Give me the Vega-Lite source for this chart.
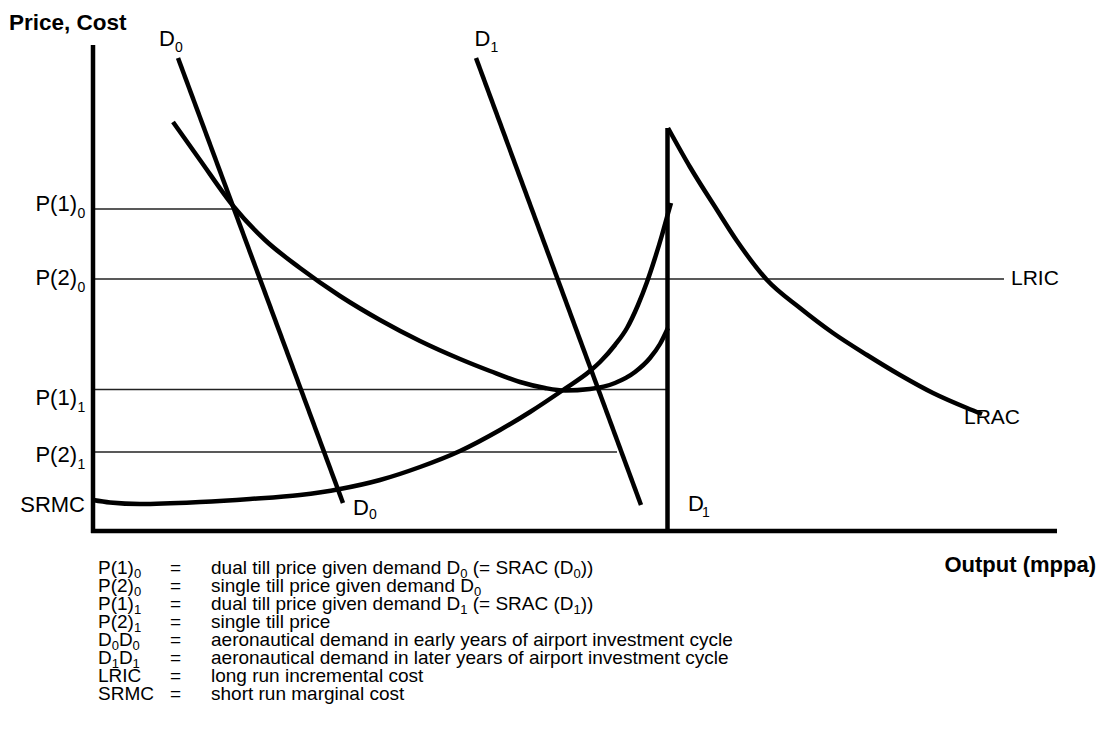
{
  "$schema": "https://vega.github.io/schema/vega-lite/v6.json",
  "width": 1100,
  "height": 738,
  "padding": 0,
  "autosize": {"type": "fit", "contains": "padding"},
  "background": "white",
  "config": {"view": {"stroke": null}, "font": "Liberation Sans"},
  "datasets": {
    "curves": [
      {"s": "LRAC left", "i": 0, "x": 80, "y": 409},
      {"s": "LRAC left", "i": 1, "x": 107, "y": 371},
      {"s": "LRAC left", "i": 2, "x": 141, "y": 324},
      {"s": "LRAC left", "i": 3, "x": 172, "y": 291},
      {"s": "LRAC left", "i": 4, "x": 207, "y": 263},
      {"s": "LRAC left", "i": 5, "x": 247, "y": 235},
      {"s": "LRAC left", "i": 6, "x": 287, "y": 211},
      {"s": "LRAC left", "i": 7, "x": 327, "y": 190},
      {"s": "LRAC left", "i": 8, "x": 367, "y": 172},
      {"s": "LRAC left", "i": 9, "x": 397, "y": 160},
      {"s": "LRAC left", "i": 10, "x": 427, "y": 149},
      {"s": "LRAC left", "i": 11, "x": 452, "y": 143},
      {"s": "LRAC left", "i": 12, "x": 472, "y": 140.5},
      {"s": "LRAC left", "i": 13, "x": 497, "y": 142},
      {"s": "LRAC left", "i": 14, "x": 522, "y": 148},
      {"s": "LRAC left", "i": 15, "x": 542, "y": 159},
      {"s": "LRAC left", "i": 16, "x": 557, "y": 173},
      {"s": "LRAC left", "i": 17, "x": 567, "y": 187},
      {"s": "LRAC left", "i": 18, "x": 575, "y": 203},
      {"s": "LRAC right", "i": 0, "x": 575, "y": 403},
      {"s": "LRAC right", "i": 1, "x": 597, "y": 364},
      {"s": "LRAC right", "i": 2, "x": 624, "y": 321},
      {"s": "LRAC right", "i": 3, "x": 644, "y": 290},
      {"s": "LRAC right", "i": 4, "x": 674, "y": 251},
      {"s": "LRAC right", "i": 5, "x": 707, "y": 223},
      {"s": "LRAC right", "i": 6, "x": 740, "y": 198},
      {"s": "LRAC right", "i": 7, "x": 774, "y": 176},
      {"s": "LRAC right", "i": 8, "x": 807, "y": 156},
      {"s": "LRAC right", "i": 9, "x": 840, "y": 138},
      {"s": "LRAC right", "i": 10, "x": 874, "y": 123},
      {"s": "LRAC right", "i": 11, "x": 889, "y": 117},
      {"s": "SRMC", "i": 0, "x": 0, "y": 31},
      {"s": "SRMC", "i": 1, "x": 17, "y": 28.5},
      {"s": "SRMC", "i": 2, "x": 47, "y": 27},
      {"s": "SRMC", "i": 3, "x": 107, "y": 29},
      {"s": "SRMC", "i": 4, "x": 157, "y": 32},
      {"s": "SRMC", "i": 5, "x": 207, "y": 36},
      {"s": "SRMC", "i": 6, "x": 247, "y": 42},
      {"s": "SRMC", "i": 7, "x": 287, "y": 51},
      {"s": "SRMC", "i": 8, "x": 327, "y": 64},
      {"s": "SRMC", "i": 9, "x": 367, "y": 80},
      {"s": "SRMC", "i": 10, "x": 407, "y": 101},
      {"s": "SRMC", "i": 11, "x": 437, "y": 119},
      {"s": "SRMC", "i": 12, "x": 470, "y": 141},
      {"s": "SRMC", "i": 13, "x": 497, "y": 160},
      {"s": "SRMC", "i": 14, "x": 507, "y": 169},
      {"s": "SRMC", "i": 15, "x": 522, "y": 186},
      {"s": "SRMC", "i": 16, "x": 534, "y": 203},
      {"s": "SRMC", "i": 17, "x": 545, "y": 226},
      {"s": "SRMC", "i": 18, "x": 554, "y": 249},
      {"s": "SRMC", "i": 19, "x": 562, "y": 273},
      {"s": "SRMC", "i": 20, "x": 569, "y": 296},
      {"s": "SRMC", "i": 21, "x": 574, "y": 314},
      {"s": "SRMC", "i": 22, "x": 578, "y": 328}
    ],
    "thick": [
      {"name": "price axis", "x": 0, "y": 486, "x2": 0, "y2": -2},
      {"name": "output axis", "x": -2, "y": 0, "x2": 964, "y2": 0},
      {"name": "D0", "x": 85, "y": 473, "x2": 250, "y2": 28},
      {"name": "D1", "x": 383, "y": 473, "x2": 548, "y2": 26},
      {"name": "D1 capacity", "x": 574.5, "y": 403, "x2": 574.5, "y2": 0}
    ],
    "thin": [
      {"name": "P(1)0", "x": 0, "x2": 140, "y": 322},
      {"name": "P(2)0 / LRIC", "x": 0, "x2": 911, "y": 252},
      {"name": "P(1)1", "x": 0, "x2": 573, "y": 141.5},
      {"name": "P(2)1", "x": 0, "x2": 524, "y": 79}
    ],
    "tickMain": [
      {"t": "P(1)", "x": -16, "y": 320},
      {"t": "P(2)", "x": -16, "y": 246},
      {"t": "P(1)", "x": -16, "y": 126},
      {"t": "P(2)", "x": -16, "y": 69},
      {"t": "SRMC", "x": -8, "y": 19}
    ],
    "tickSub": [
      {"t": "0", "x": -15.5, "y": 313},
      {"t": "0", "x": -15.5, "y": 239},
      {"t": "1", "x": -15.5, "y": 119},
      {"t": "1", "x": -15.5, "y": 62}
    ],
    "dMain": [
      {"t": "D", "x": 66, "y": 485},
      {"t": "D", "x": 381.5, "y": 485},
      {"t": "D", "x": 260, "y": 16},
      {"t": "D", "x": 595, "y": 20}
    ],
    "dSub": [
      {"t": "0", "x": 82, "y": 479},
      {"t": "1", "x": 397.5, "y": 479},
      {"t": "0", "x": 276, "y": 12},
      {"t": "1", "x": 609, "y": 14}
    ],
    "curveLabels": [
      {"t": "LRIC", "x": 918, "y": 246},
      {"t": "LRAC", "x": 871, "y": 107}
    ],
    "titles": [
      {"t": "Price, Cost", "x": -84, "y": 501}
    ],
    "titlesRight": [
      {"t": "Output (mppa)", "x": 1003, "y": -41}
    ],
    "legendRows": [
      {"row": 1, "y": -43},
      {"row": 2, "y": -61},
      {"row": 3, "y": -79},
      {"row": 4, "y": -97},
      {"row": 5, "y": -115},
      {"row": 6, "y": -133},
      {"row": 7, "y": -151},
      {"row": 8, "y": -169}
    ],
    "legendMain": [
      {"t": "P(1)", "x": 5, "y": -43},
      {"t": "P(2)", "x": 5, "y": -61},
      {"t": "P(1)", "x": 5, "y": -79},
      {"t": "P(2)", "x": 5, "y": -97},
      {"t": "D", "x": 5, "y": -115},
      {"t": "D", "x": 25.9, "y": -115},
      {"t": "D", "x": 5, "y": -133},
      {"t": "D", "x": 25.9, "y": -133},
      {"t": "LRIC", "x": 5, "y": -151},
      {"t": "SRMC", "x": 5, "y": -169},
      {"t": "dual till price given demand D", "x": 118, "y": -43},
      {"t": "(= SRAC (D", "x": 379.7, "y": -43},
      {"t": "))", "x": 487.7, "y": -43},
      {"t": "single till price given demand D", "x": 118, "y": -61},
      {"t": "dual till price given demand D", "x": 118, "y": -79},
      {"t": "(= SRAC (D", "x": 379.7, "y": -79},
      {"t": "))", "x": 487.7, "y": -79},
      {"t": "single till price", "x": 118, "y": -97},
      {"t": "aeronautical demand in early years of airport investment cycle", "x": 118, "y": -115},
      {"t": "aeronautical demand in later years of airport investment cycle", "x": 118, "y": -133},
      {"t": "long run incremental cost", "x": 118, "y": -151},
      {"t": "short run marginal cost", "x": 118, "y": -169}
    ],
    "legendSub": [
      {"t": "0", "x": 40.9, "y": -46.5},
      {"t": "0", "x": 40.9, "y": -64.5},
      {"t": "1", "x": 40.9, "y": -82.5},
      {"t": "1", "x": 40.9, "y": -100.5},
      {"t": "0", "x": 18.7, "y": -118.5},
      {"t": "0", "x": 39.6, "y": -118.5},
      {"t": "1", "x": 18.7, "y": -136.5},
      {"t": "1", "x": 39.6, "y": -136.5},
      {"t": "0", "x": 367.2, "y": -46.5},
      {"t": "0", "x": 480.5, "y": -46.5},
      {"t": "0", "x": 380.9, "y": -64.5},
      {"t": "1", "x": 367.2, "y": -82.5},
      {"t": "1", "x": 480.5, "y": -82.5}
    ]
  },
  "layer": [
    {
      "data": {"name": "thin"},
      "mark": {"type": "rule", "color": "#222", "strokeWidth": 1.4},
      "encoding": {
        "x": {"field": "x", "type": "quantitative", "axis": null, "scale": {"domain": [-93, 1007], "nice": false, "zero": false}},
        "x2": {"field": "x2"},
        "y": {"field": "y", "type": "quantitative", "axis": null, "scale": {"domain": [-207, 531], "nice": false, "zero": false}}
      }
    },
    {
      "data": {"name": "curves"},
      "mark": {"type": "line", "color": "black", "strokeWidth": 4.5, "interpolate": "monotone"},
      "encoding": {
        "x": {"field": "x", "type": "quantitative", "axis": null},
        "y": {"field": "y", "type": "quantitative", "axis": null},
        "detail": {"field": "s"},
        "order": {"field": "i", "type": "quantitative"}
      }
    },
    {
      "data": {"name": "thick"},
      "mark": {"type": "rule", "color": "black", "strokeWidth": 4.5},
      "encoding": {
        "x": {"field": "x", "type": "quantitative", "axis": null},
        "y": {"field": "y", "type": "quantitative", "axis": null},
        "x2": {"field": "x2"},
        "y2": {"field": "y2"}
      }
    },
    {
      "data": {"name": "tickMain"},
      "mark": {"type": "text", "align": "right", "baseline": "alphabetic", "fontSize": 22, "color": "black"},
      "encoding": {
        "x": {"field": "x", "type": "quantitative", "axis": null},
        "y": {"field": "y", "type": "quantitative", "axis": null},
        "text": {"field": "t"}
      }
    },
    {
      "data": {"name": "tickSub"},
      "mark": {"type": "text", "align": "left", "baseline": "alphabetic", "fontSize": 14, "color": "black"},
      "encoding": {
        "x": {"field": "x", "type": "quantitative", "axis": null},
        "y": {"field": "y", "type": "quantitative", "axis": null},
        "text": {"field": "t"}
      }
    },
    {
      "data": {"name": "dMain"},
      "mark": {"type": "text", "align": "left", "baseline": "alphabetic", "fontSize": 22, "color": "black"},
      "encoding": {
        "x": {"field": "x", "type": "quantitative", "axis": null},
        "y": {"field": "y", "type": "quantitative", "axis": null},
        "text": {"field": "t"}
      }
    },
    {
      "data": {"name": "dSub"},
      "mark": {"type": "text", "align": "left", "baseline": "alphabetic", "fontSize": 14, "color": "black"},
      "encoding": {
        "x": {"field": "x", "type": "quantitative", "axis": null},
        "y": {"field": "y", "type": "quantitative", "axis": null},
        "text": {"field": "t"}
      }
    },
    {
      "data": {"name": "curveLabels"},
      "mark": {"type": "text", "align": "left", "baseline": "alphabetic", "fontSize": 21, "color": "black"},
      "encoding": {
        "x": {"field": "x", "type": "quantitative", "axis": null},
        "y": {"field": "y", "type": "quantitative", "axis": null},
        "text": {"field": "t"}
      }
    },
    {
      "data": {"name": "titles"},
      "mark": {"type": "text", "align": "left", "baseline": "alphabetic", "fontSize": 22.5, "fontWeight": "bold", "color": "black"},
      "encoding": {
        "x": {"field": "x", "type": "quantitative", "axis": null},
        "y": {"field": "y", "type": "quantitative", "axis": null},
        "text": {"field": "t"}
      }
    },
    {
      "data": {"name": "titlesRight"},
      "mark": {"type": "text", "align": "right", "baseline": "alphabetic", "fontSize": 22, "fontWeight": "bold", "color": "black"},
      "encoding": {
        "x": {"field": "x", "type": "quantitative", "axis": null},
        "y": {"field": "y", "type": "quantitative", "axis": null},
        "text": {"field": "t"}
      }
    },
    {
      "data": {"name": "legendMain"},
      "mark": {"type": "text", "align": "left", "baseline": "alphabetic", "fontSize": 19, "color": "black"},
      "encoding": {
        "x": {"field": "x", "type": "quantitative", "axis": null},
        "y": {"field": "y", "type": "quantitative", "axis": null},
        "text": {"field": "t"}
      }
    },
    {
      "data": {"name": "legendSub"},
      "mark": {"type": "text", "align": "left", "baseline": "alphabetic", "fontSize": 13, "color": "black"},
      "encoding": {
        "x": {"field": "x", "type": "quantitative", "axis": null},
        "y": {"field": "y", "type": "quantitative", "axis": null},
        "text": {"field": "t"}
      }
    },
    {
      "data": {"name": "legendRows"},
      "mark": {"type": "text", "align": "left", "baseline": "alphabetic", "fontSize": 19, "color": "black"},
      "encoding": {
        "x": {"datum": 77, "type": "quantitative", "axis": null},
        "y": {"field": "y", "type": "quantitative", "axis": null},
        "text": {"value": "="}
      }
    }
  ]
}
